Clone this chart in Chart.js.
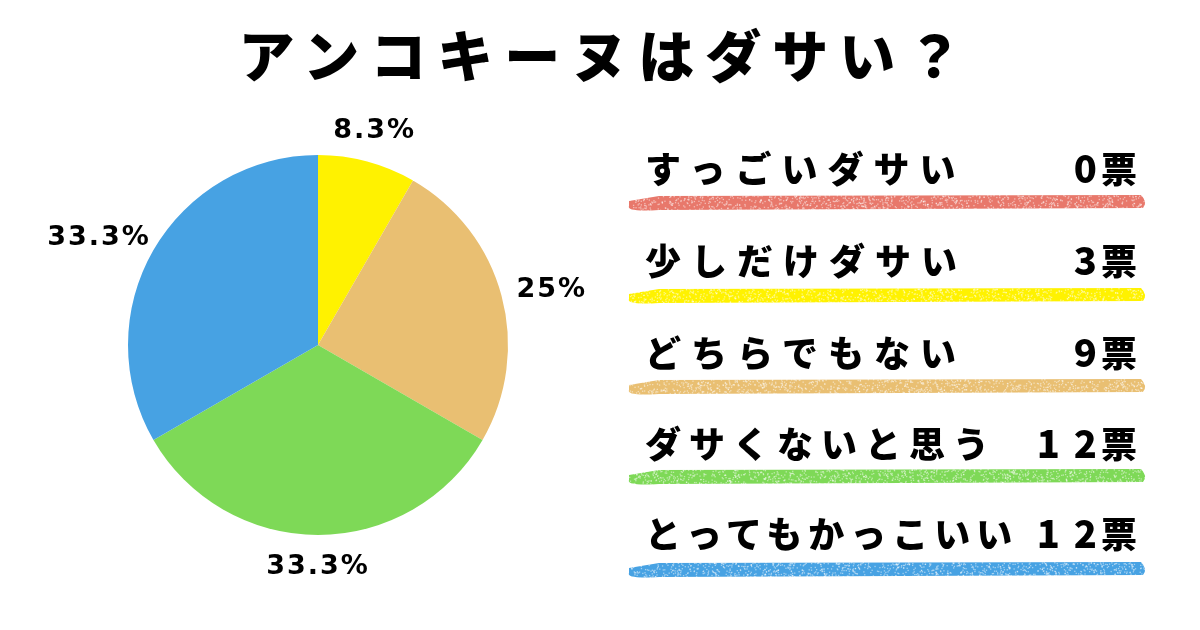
<!DOCTYPE html>
<html lang="ja">
<head>
<meta charset="utf-8">
<script src="https://cdn.jsdelivr.net/npm/chart.js@4"></script>
<style>
  html, body { margin: 0; padding: 0; background: #fff; }
  #page { position: relative; width: 1200px; height: 630px; overflow: hidden; font-family: "Noto Sans CJK JP", sans-serif; }
  #title { position: absolute; left: 6px; top: 12px; width: 1200px; text-align: center; font-size: 56px; font-weight: 900; letter-spacing: 11px; color: #000; }
  #pie-wrap { position: absolute; left: 8px; top: 110px; width: 620px; height: 470px; }
  #strokes { position: absolute; left: 0; top: 0; }
  .row { position: absolute; left: 645px; width: 492px; height: 50px; font-size: 36px; font-weight: 900; color: #000; line-height: 50px; }
  .row .lbl { position: absolute; left: 0; top: 0; white-space: nowrap; }
  .row .num { position: absolute; right: 0; top: 0; white-space: nowrap; letter-spacing: 0; }
  .row .num .d { letter-spacing: 14px; margin-right: -10px; font-size: 38px; }
</style>
</head>
<body>
<div id="page">
  <div id="title">アンコキーヌはダサい？</div>
  <div id="pie-wrap"><canvas id="grafico"></canvas></div>
  <canvas id="strokes" width="1200" height="630"></canvas>
  <div id="legenda"></div>
</div>
<script>
// dados do gráfico
const categorias = ['すっごいダサい', '少しだけダサい', 'どちらでもない', 'ダサくないと思う', 'とってもかっこいい'];
const votos = [0, 3, 9, 12, 12];
const cores = ['#E8786B', '#FFF200', '#E9BF72', '#7ED957', '#47A2E3'];
const unidade = '票';

const total = votos.reduce((a, b) => a + b, 0);

// rótulos de porcentagem fora da pizza
const rotulosFora = {
  id: 'rotulosFora',
  afterDatasetsDraw(chart) {
    const ctx = chart.ctx;
    const meta = chart.getDatasetMeta(0);
    ctx.save();
    ctx.font = 'bold 27px "DejaVu Sans"';
    ctx.letterSpacing = '2px';
    ctx.fillStyle = '#000';
    ctx.textAlign = 'center';
    ctx.textBaseline = 'middle';
    meta.data.forEach((arc, i) => {
      if (!votos[i]) return;
      const pct = Math.round(votos[i] / total * 1000) / 10;
      const txt = pct + '%';
      const meio = (arc.startAngle + arc.endAngle) / 2;
      const w = ctx.measureText(txt).width;
      const r = arc.outerRadius + 18;
      const cx = arc.x + Math.cos(meio) * (r + w / 2 * Math.abs(Math.cos(meio)));
      const cy = arc.y + Math.sin(meio) * (r + 14 * Math.abs(Math.sin(meio)));
      ctx.fillText(txt, cx, cy);
    });
    ctx.restore();
  }
};

new Chart(document.getElementById('grafico'), {
  type: 'pie',
  data: {
    labels: categorias,
    datasets: [{
      data: votos,
      backgroundColor: cores,
      borderWidth: 0
    }]
  },
  options: {
    responsive: true,
    maintainAspectRatio: false,
    animation: false,
    layout: { padding: { left: 120, right: 120, top: 45, bottom: 45 } },
    plugins: {
      legend: { display: false },
      tooltip: { enabled: false }
    }
  },
  plugins: [rotulosFora]
});

// legenda com traço de giz
const linhasTexto = [167, 259, 351, 442, 532];
const linhasTraco = [203, 296, 387, 477, 570];
const espacamento = [10, 10, 10, 8, 6];

const legenda = document.getElementById('legenda');
categorias.forEach((nome, i) => {
  const div = document.createElement('div');
  div.className = 'row';
  div.style.top = (linhasTexto[i] - 25) + 'px';
  div.innerHTML = `<span class="lbl" style="letter-spacing:${espacamento[i]}px">${nome}</span><span class="num"><span class="d">${votos[i]}</span>${unidade}</span>`;
  legenda.appendChild(div);
});

// ruído determinístico para a textura
function hash(n) {
  const s = Math.sin(n * 12.9898) * 43758.5453;
  return s - Math.floor(s);
}

const sctx = document.getElementById('strokes').getContext('2d');
linhasTraco.forEach((y, i) => {
  const x0 = 629, x1 = 1146;
  sctx.fillStyle = cores[i];
  sctx.beginPath();
  sctx.moveTo(x0, y - 2);
  sctx.lineTo(x0 + 30, y - 7);
  sctx.lineTo(x1 - 5, y - 8);
  sctx.quadraticCurveTo(x1 + 2, y - 1, x1 - 3, y + 5);
  sctx.lineTo(x0 + 30, y + 7);
  sctx.quadraticCurveTo(x0 - 3, y + 9, x0, y + 3);
  sctx.closePath();
  sctx.fill();
  // pontinhos brancos
  sctx.fillStyle = 'rgba(255,255,255,0.5)';
  for (let k = 0; k < 1100; k++) {
    const px = x0 + hash(k + i * 1000) * (x1 - x0);
    const py = y - 8 + hash(k * 3.7 + i * 77) * 16;
    sctx.fillRect(px, py, 1.3, 1.3);
  }
});
</script>
</body>
</html>
